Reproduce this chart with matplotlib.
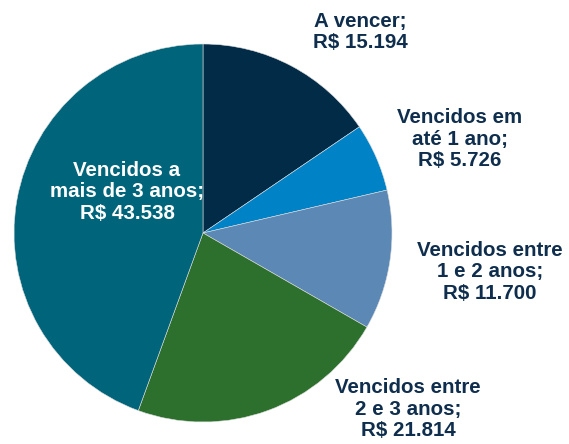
import matplotlib
matplotlib.use("Agg")
import matplotlib.pyplot as plt

categories = ["A vencer", "Vencidos em\naté 1 ano", "Vencidos entre\n1 e 2 anos",
              "Vencidos entre\n2 e 3 anos", "Vencidos a\nmais de 3 anos"]
values = [15194, 5726, 11700, 21814, 43538]
value_labels = ["R$ 15.194", "R$ 5.726", "R$ 11.700", "R$ 21.814", "R$ 43.538"]
colors = ["#022B47", "#0083C6", "#5B88B5", "#2D702D", "#00647A"]

W, H = 569, 444
fig = plt.figure(figsize=(W / 100, H / 100), dpi=100)
ax = fig.add_axes([0, 0, 1, 1])

cx, cy, r = 203, H - 233, 189
ax.pie(values, colors=colors, startangle=90, counterclock=False,
       center=(cx, cy), radius=r, frame=True,
       wedgeprops=dict(linewidth=0.4, edgecolor="#dddddd"))
ax.set_xlim(0, W)
ax.set_ylim(0, H)
ax.set_aspect("equal")
ax.axis("off")

label_pos = [(360, 32), (460, 139), (490, 272), (408, 409), (127, 192)]
label_col = ["#0F2E4D", "#0F2E4D", "#0F2E4D", "#0F2E4D", "white"]
for cat, vl, (x, y), c in zip(categories, value_labels, label_pos, label_col):
    ax.text(x, H - y, f"{cat};\n{vl}", ha="center", va="center", color=c,
            fontsize=14.8, fontweight="bold", family="Liberation Sans",
            linespacing=1.18)

fig.savefig("out.png", dpi=100)
